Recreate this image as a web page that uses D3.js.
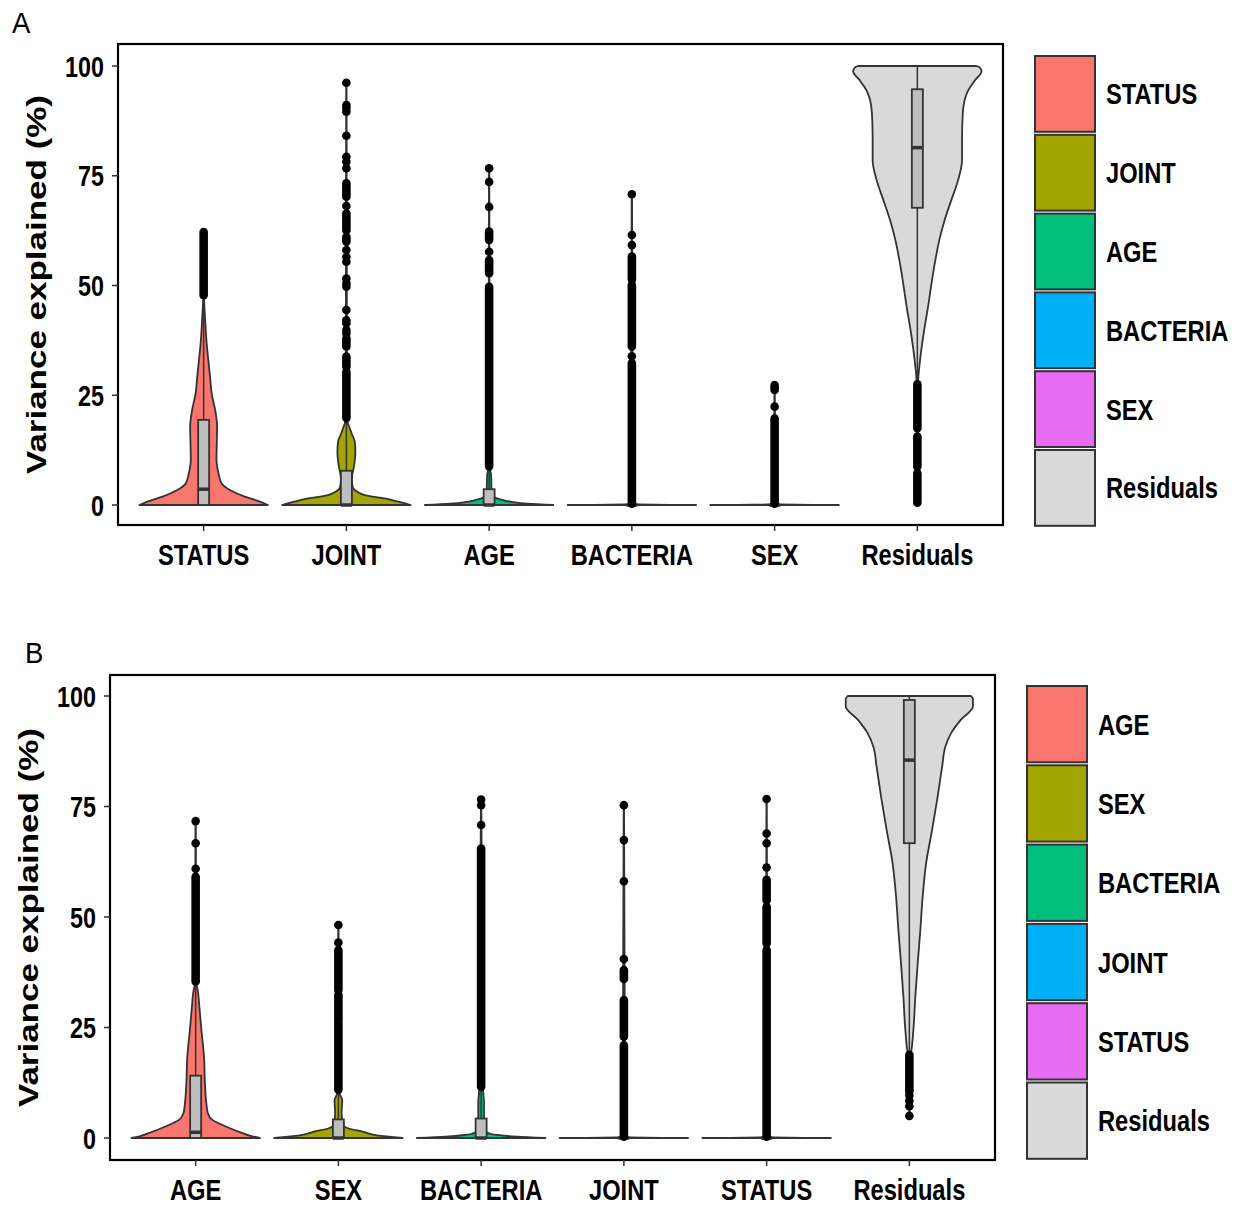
<!DOCTYPE html>
<html><head><meta charset="utf-8">
<script src="https://cdn.jsdelivr.net/npm/d3@7"></script>
<style>body{margin:0;background:#fff} text{font-family:"Liberation Sans",Arial,sans-serif}</style>
</head><body><svg id="c" width="1252" height="1207"></svg>
<script>
// ---------------- DATA ----------------
const yTicks = [0, 25, 50, 75, 100];
const yTitle = "Variance explained (%)";

const catsA = ["STATUS", "JOINT", "AGE", "BACTERIA", "SEX", "Residuals"];
const catsB = ["AGE", "SEX", "BACTERIA", "JOINT", "STATUS", "Residuals"];

// box stats: [q1, median, q3, whiskerLow, whiskerHigh]
const boxA = [
  [0, 3.6, 19.4, 0, 47.4],
  [0, 0, 7.8, 0, 19.4],
  [0, 0, 3.6, 0, 8.4],
  [0, 0, 0, 0, 0],
  [0, 0, 0, 0, 0],
  [67.7, 81.4, 94.7, 27.7, 100]
];
const boxB = [
  [0, 1.3, 14.1, 0, 35],
  [0, 0, 4.2, 0, 10.5],
  [0, 0, 4.4, 0, 11.2],
  [0, 0, 0, 0, 0],
  [0, 0, 0, 0, 0],
  [66.7, 85.5, 99.1, 18.8, 100]
];

// violin profiles: [value, relative half-width]
const violinA = [
  [[0,1],[1,0.83],[1.9,0.64],[3.4,0.41],[4.9,0.28],[7.3,0.23],[10.3,0.2],[17.8,0.21],[21.6,0.18],[25.4,0.125],[29.2,0.1],[33,0.073],[36.8,0.047],[40.6,0.03],[44.4,0.015],[47.4,0.006],[62.2,0.003]],
  [[0,1],[0.8,0.8],[1.5,0.6],[2.2,0.3],[3,0.17],[4,0.1],[6,0.085],[9,0.12],[12,0.14],[14.5,0.13],[16,0.09],[18,0.04],[19.4,0.01],[96.2,0.003]],
  [[0,1],[0.3,0.6],[0.7,0.35],[1.1,0.22],[1.5,0.12],[2,0.06],[3,0.04],[5,0.035],[7,0.03],[8.4,0.01],[76.7,0.003]],
  [[0,1],[0.15,0.02],[70.8,0.003]],
  [[0,1],[0.15,0.02],[27.3,0.003]],
  [[0.5,0.003],[17,0.005],[27.7,0.011],[33,0.042],[39.1,0.098],[45.2,0.167],[51.3,0.229],[55.8,0.28],[60.4,0.343],[64.9,0.425],[69.5,0.53],[74,0.634],[78.6,0.696],[83.1,0.696],[86.9,0.7],[90.7,0.717],[94.5,0.794],[96.8,0.9],[98.8,1.0],[99.7,0.97],[100,0.92]]
];
const violinB = [
  [[0,1],[0.5,0.85],[1.1,0.73],[2.6,0.47],[4.1,0.26],[5.6,0.19],[7.8,0.167],[12.4,0.145],[18.4,0.13],[24.4,0.09],[29,0.062],[33.5,0.031],[35,0.01],[71.7,0.003]],
  [[0,1],[0.6,0.6],[1.4,0.39],[2.2,0.15],[2.8,0.08],[5.6,0.05],[8.6,0.06],[9.8,0.025],[10.5,0.01],[48.2,0.003]],
  [[0,1],[0.3,0.55],[0.7,0.25],[1.2,0.1],[2,0.05],[4,0.045],[8,0.045],[11.2,0.03],[76.6,0.003]],
  [[0,1],[0.15,0.02],[75.3,0.003]],
  [[0,1],[0.15,0.02],[76.7,0.003]],
  [[4.8,0.003],[18.5,0.01],[19.2,0.023],[24.4,0.062],[32,0.093],[39.5,0.13],[47.1,0.171],[54.6,0.207],[62.1,0.26],[69.7,0.354],[77.2,0.44],[84,0.51],[88.5,0.56],[91.6,0.65],[94.6,0.8],[97.6,0.99],[99.3,0.99],[100,0.96]]
];

// outliers: dense runs [from, to] and single points
const runsA = [
  [[47.8, 62.2]],
  [[19.8, 30.3], [31.5, 33.8], [36.1, 38], [60, 61.1], [62.6, 66.4], [70.2, 73.3]],
  [[8.8, 49.7], [52.8, 55.8], [60.4, 62.3]],
  [[0.3, 32.3], [36.1, 50.1], [51.3, 56.6]],
  [[0.3, 19.7], [26.2, 27.3]],
  [[0.5, 7.2], [8.7, 15.6], [17.5, 27.5]]
];
const pointsA = [
  [],
  [39.1, 39.9, 41.4, 42.1, 44.4, 49.7, 50.5, 51.6, 55.4, 56.5, 58.1, 68.1, 76.7, 78.2, 79.3, 84.1, 89.6, 90.5, 91.1, 96.2],
  [57.7, 67.9, 73.6, 76.7],
  [33.9, 59.2, 61.5, 70.8],
  [22.4],
  []
];
const runsB = [
  [[35.4, 59.1]],
  [[10.9, 26], [26.7, 32.4], [33.5, 42.5]],
  [[11.6, 65.5]],
  [[0.3, 21], [22.9, 31.2], [36, 38]],
  [[0.3, 42.5], [44, 52.3], [53.8, 58.4]],
  [[10.5, 18.8]]
];
const pointsB = [
  [60.9, 66.7, 71.7],
  [44.2, 48.2],
  [70.8, 75.3, 76.6],
  [40.5, 58.1, 67.4, 75.3],
  [61.2, 66.7, 68.9, 76.7],
  [5.0, 7.2, 8.4, 9.6]
];

// colours (styles kept apart from data)
const colorOf = {STATUS:"#F8766D", JOINT:"#A3A500", AGE:"#00BF7D", BACTERIA:"#00B0F6", SEX:"#E76BF3", Residuals:"#D9D9D9"};
const colorOfB = {AGE:"#F8766D", SEX:"#A3A500", BACTERIA:"#00BF7D", JOINT:"#00B0F6", STATUS:"#E76BF3", Residuals:"#D9D9D9"};

// ---------------- DRAW ----------------
const svg = d3.select("#c");
const SX = 0.79; // horizontal squeeze of glyphs

function drawPanel(cfg) {
  const g = svg.append("g");
  const x = d3.scalePoint().domain(cfg.cats).range([cfg.left, cfg.right]).padding(0.6);
  const y = d3.scaleLinear().domain([0, 100]).range([cfg.y0, cfg.y100]);
  const half = x.step() * 0.45;

  // panel label
  g.append("text").attr("transform", `translate(${cfg.labX},${cfg.labY}) scale(0.95,1)`)
    .attr("font-size", 29).text(cfg.label);

  // violins
  cfg.cats.forEach((c, i) => {
    const cx = x(c);
    const prof = cfg.violins[i].slice().sort((a, b) => b[0] - a[0]);
    const area = d3.area().curve(d3.curveMonotoneY)
      .y(d => y(d[0]))
      .x0(d => cx - d[1] * half)
      .x1(d => cx + d[1] * half);
    g.append("path").attr("d", area(prof))
      .attr("fill", cfg.colors[c]).attr("stroke", "#333").attr("stroke-width", 1.8)
      .attr("stroke-linejoin", "round");
  });

  // boxes + outliers
  cfg.cats.forEach((c, i) => {
    const cx = x(c);
    const [q1, med, q3, lo, hi] = cfg.boxes[i];
    g.append("line").attr("x1", cx).attr("x2", cx).attr("y1", y(q3)).attr("y2", y(hi))
      .attr("stroke", "#333").attr("stroke-width", 1.5);
    g.append("line").attr("x1", cx).attr("x2", cx).attr("y1", y(q1)).attr("y2", y(lo))
      .attr("stroke", "#333").attr("stroke-width", 1.5);
    g.append("rect").attr("x", cx - 5.5).attr("width", 11)
      .attr("y", y(q3)).attr("height", Math.max(0.01, y(q1) - y(q3)))
      .attr("fill", "#BEBEBE").attr("stroke", "#333").attr("stroke-width", 1.8);
    g.append("line").attr("x1", cx - 5.5).attr("x2", cx + 5.5).attr("y1", y(med)).attr("y2", y(med))
      .attr("stroke", "#333").attr("stroke-width", 3.5);
    cfg.runs[i].forEach(r => {
      g.append("line").attr("x1", cx).attr("x2", cx).attr("y1", y(r[0])).attr("y2", y(r[1]))
        .attr("stroke", "#000").attr("stroke-width", 8.6).attr("stroke-linecap", "round");
    });
    cfg.points[i].forEach(v => {
      g.append("circle").attr("cx", cx).attr("cy", y(v)).attr("r", 4.3).attr("fill", "#000");
    });
  });

  // frame
  g.append("rect").attr("x", cfg.left).attr("y", cfg.top)
    .attr("width", cfg.right - cfg.left).attr("height", cfg.bottom - cfg.top)
    .attr("fill", "none").attr("stroke", "#000").attr("stroke-width", 2.2);

  // y axis ticks and labels
  yTicks.forEach(t => {
    g.append("line").attr("x1", cfg.left - 6).attr("x2", cfg.left).attr("y1", y(t)).attr("y2", y(t))
      .attr("stroke", "#333").attr("stroke-width", 1.5);
    g.append("text").attr("transform", `translate(${cfg.left - 14},${y(t) + 10.5}) scale(${SX},1)`)
      .attr("text-anchor", "end").attr("font-size", 29.5).attr("font-weight", "bold").text(t);
  });
  // x axis ticks and labels
  cfg.cats.forEach(c => {
    g.append("line").attr("x1", x(c)).attr("x2", x(c)).attr("y1", cfg.bottom).attr("y2", cfg.bottom + 6)
      .attr("stroke", "#333").attr("stroke-width", 1.5);
    g.append("text").attr("transform", `translate(${x(c)},${cfg.bottom + 40}) scale(${SX},1)`)
      .attr("text-anchor", "middle").attr("font-size", 30).attr("font-weight", "bold").text(c);
  });
  // y title
  g.append("text")
    .attr("transform", `translate(${cfg.titleX},${(cfg.top + cfg.bottom) / 2}) scale(${SX},1) rotate(-90)`)
    .attr("text-anchor", "middle").attr("dy", "0.36em").attr("font-size", 35).attr("font-weight", "bold")
    .text(yTitle);

  // legend
  cfg.cats.forEach((c, i) => {
    const ky = cfg.legY + i * cfg.legStep;
    g.append("rect").attr("x", cfg.legX).attr("y", ky).attr("width", 60).attr("height", cfg.legStep - 3)
      .attr("fill", cfg.colors[c]).attr("stroke", "#333").attr("stroke-width", 2);
    g.append("text").attr("transform", `translate(${cfg.legX + 71},${ky + (cfg.legStep - 3) / 2 + 10.5}) scale(${SX},1)`)
      .attr("font-size", 30).attr("font-weight", "bold").text(c);
  });
}

drawPanel({
  label: "A", labX: 12, labY: 33, cats: catsA, colors: colorOf,
  boxes: boxA, violins: violinA, runs: runsA, points: pointsA,
  left: 118, right: 1003, top: 44, bottom: 525, y0: 505, y100: 66,
  titleX: 36, legX: 1035, legY: 56, legStep: 78.8
});
drawPanel({
  label: "B", labX: 25, labY: 663, cats: catsB, colors: colorOfB,
  boxes: boxB, violins: violinB, runs: runsB, points: pointsB,
  left: 110, right: 995, top: 675, bottom: 1160, y0: 1138, y100: 696,
  titleX: 28, legX: 1027, legY: 686, legStep: 79.3
});
</script></body></html>
